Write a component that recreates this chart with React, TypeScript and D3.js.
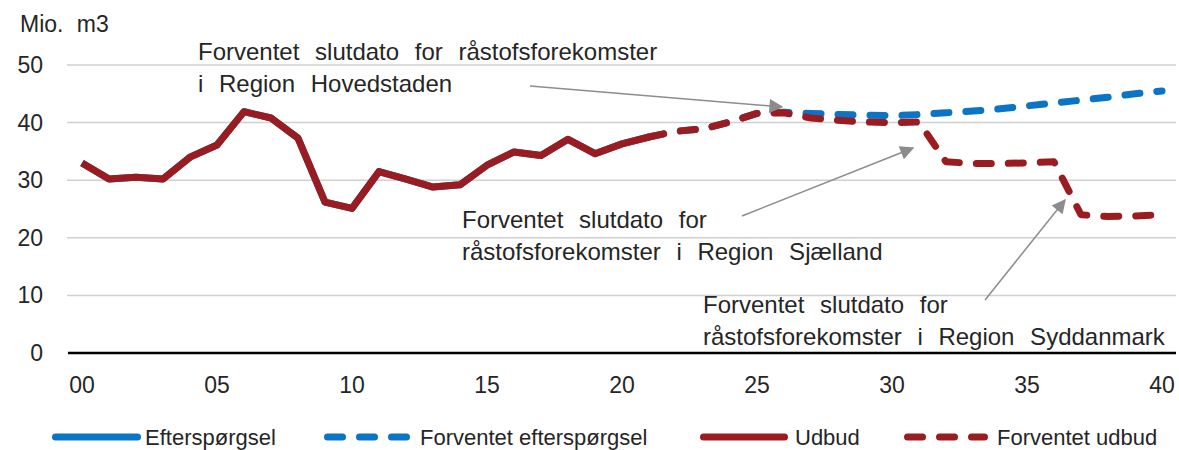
import React, { useEffect } from "react";
import * as d3 from "d3";

const YEARS = [
  "00", "01", "02", "03", "04", "05", "06", "07", "08", "09", "10",
  "11", "12", "13", "14", "15", "16", "17", "18", "19", "20",
  "21", "22", "23", "24", "25", "26", "27", "28", "29", "30",
  "31", "32", "33", "34", "35", "36", "37", "38", "39", "40",
];
const TICK_LABELS = ["00", "05", "10", "15", "20", "25", "30", "35", "40"];
const Y_TICKS = [0, 10, 20, 30, 40, 50];

// historical years 00-21
const HIST_YEARS = YEARS.slice(0, 22);
const UDBUD = [
  33.0, 30.2, 30.5, 30.2, 34.0, 36.1, 41.9, 40.8, 37.3, 26.2, 25.1,
  31.5, 30.2, 28.8, 29.2, 32.6, 34.9, 34.3, 37.1, 34.6, 36.3, 37.5,
];
const EFTERSPORGSEL = [
  33.0, 30.2, 30.5, 30.2, 34.0, 36.1, 41.9, 40.8, 37.3, 26.2, 25.1,
  31.5, 30.2, 28.8, 29.2, 32.6, 34.9, 34.3, 37.1, 34.6, 36.3, 37.5,
];

// forecast years 21-40
const FC_YEARS = YEARS.slice(21);
const FORV_UDBUD = [
  37.5, 38.5, 38.9, 40.1, 41.6, 41.7, 40.8, 40.4, 40.1, 40.0,
  40.1, 33.2, 32.9, 32.9, 33.0, 33.2, 24.0, 23.7, 23.8, 24.0,
];
const FORV_EFTERSPORGSEL = [
  37.5, 38.5, 38.9, 40.1, 41.6, 41.8, 41.6, 41.4, 41.3, 41.2,
  41.4, 41.7, 42.0, 42.4, 42.9, 43.4, 43.9, 44.4, 45.0, 45.5,
];

const BLUE = "#0b74c4";
const RED = "#9b1c20";
const GREY = "#8c8c8c";
const TEXT = "#262626";
const FONT = "'Liberation Sans', Arial, sans-serif";
const DASH = "15 17";

const LEGEND = [
  { label: "Efterspørgsel", color: BLUE, dashed: false, x: 52, w: 89, tx: 145 },
  { label: "Forventet efterspørgsel", color: BLUE, dashed: true, x: 324, w: 86, tx: 420 },
  { label: "Udbud", color: RED, dashed: false, x: 700, w: 88, tx: 795 },
  { label: "Forventet udbud", color: RED, dashed: true, x: 904, w: 84, tx: 997 },
];

const ANNOTATIONS = [
  {
    lines: ["Forventet slutdato for råstofsforekomster", "i Region Hovedstaden"],
    x: 198, y: 60, from: [530, 86], to: [782, 107],
  },
  {
    lines: ["Forventet slutdato for", "råstofsforekomster i Region Sjælland"],
    x: 462, y: 228, from: [742, 216], to: [913, 148],
  },
  {
    lines: ["Forventet slutdato for", "råstofsforekomster i Region Syddanmark"],
    x: 703, y: 313, from: [985, 300], to: [1065, 200],
  },
];

const App = () => {
  useEffect(() => {
    document.body.style.margin = "0";
  }, []);

  const width = 1179;
  const height = 450;
  const x = d3.scalePoint<string>().domain(YEARS).range([82, 1162]);
  const y = d3.scaleLinear().domain([0, 50]).range([353, 65]);

  const line = d3
    .line<[string, number]>()
    .x((d) => x(d[0]) as number)
    .y((d) => y(d[1]));

  const zip = (ks: string[], vs: number[]) =>
    ks.map((k, i) => [k, vs[i]] as [string, number]);

  return (
    <svg width={width} height={height} style={{ display: "block", fontFamily: FONT }}>
      <defs>
        <marker
          id="arrow"
          viewBox="0 0 10 10"
          refX="9"
          refY="5"
          markerWidth="17"
          markerHeight="14"
          markerUnits="userSpaceOnUse"
          orient="auto"
        >
          <path d="M0,0 L10,5 L0,10 z" fill={GREY} />
        </marker>
      </defs>
      <rect width={width} height={height} fill="#fff" />

      {/* gridlines */}
      {Y_TICKS.filter((t) => t > 0).map((t) => (
        <line key={t} x1={67} x2={1176} y1={y(t)} y2={y(t)} stroke="#d0d0d0" strokeWidth={1.5} />
      ))}
      <line x1={68} x2={1176} y1={y(0)} y2={y(0)} stroke="#000" strokeWidth={2.5} />

      {/* y labels */}
      {Y_TICKS.map((t) => (
        <text key={t} x={43} y={y(t) + 8} textAnchor="end" fontSize={23} fill={TEXT}>
          {t}
        </text>
      ))}
      <text x={20} y={32} fontSize={23} wordSpacing={7} fill={TEXT}>Mio. m3</text>

      {/* x labels */}
      {TICK_LABELS.map((t) => (
        <text key={t} x={x(t)} y={393} textAnchor="middle" fontSize={23} fill={TEXT}>
          {t}
        </text>
      ))}

      {/* series */}
      <path d={line(zip(HIST_YEARS, EFTERSPORGSEL)) || ""} fill="none" stroke={BLUE} strokeWidth={7} strokeLinejoin="round" />
      <path d={line(zip(FC_YEARS, FORV_EFTERSPORGSEL)) || ""} fill="none" stroke={BLUE} strokeWidth={7} strokeDasharray={DASH} strokeLinecap="round" strokeLinejoin="round" />
      <path d={line(zip(HIST_YEARS, UDBUD)) || ""} fill="none" stroke={RED} strokeWidth={7} strokeLinejoin="round" />
      <path d={line(zip(FC_YEARS, FORV_UDBUD)) || ""} fill="none" stroke={RED} strokeWidth={7} strokeDasharray={DASH} strokeLinecap="round" strokeLinejoin="round" />

      {/* annotations */}
      {ANNOTATIONS.map((a, i) => (
        <g key={i}>
          {a.lines.map((l, j) => (
            <text key={j} x={a.x} y={a.y + j * 32} fontSize={24} wordSpacing={9} fill={TEXT}>
              {l}
            </text>
          ))}
          <line
            x1={a.from[0]}
            y1={a.from[1]}
            x2={a.to[0]}
            y2={a.to[1]}
            stroke={GREY}
            strokeWidth={1.5}
            markerEnd="url(#arrow)"
          />
        </g>
      ))}

      {/* legend */}
      {LEGEND.map((l) => (
        <g key={l.label}>
          <line
            x1={l.x + 3.5}
            x2={l.x + l.w - 3.5}
            y1={437}
            y2={437}
            stroke={l.color}
            strokeWidth={7}
            strokeLinecap="round"
            strokeDasharray={l.dashed ? DASH : undefined}
          />
          <text x={l.tx} y={445} fontSize={22} fill={TEXT}>
            {l.label}
          </text>
        </g>
      ))}
    </svg>
  );
};

export default App;
